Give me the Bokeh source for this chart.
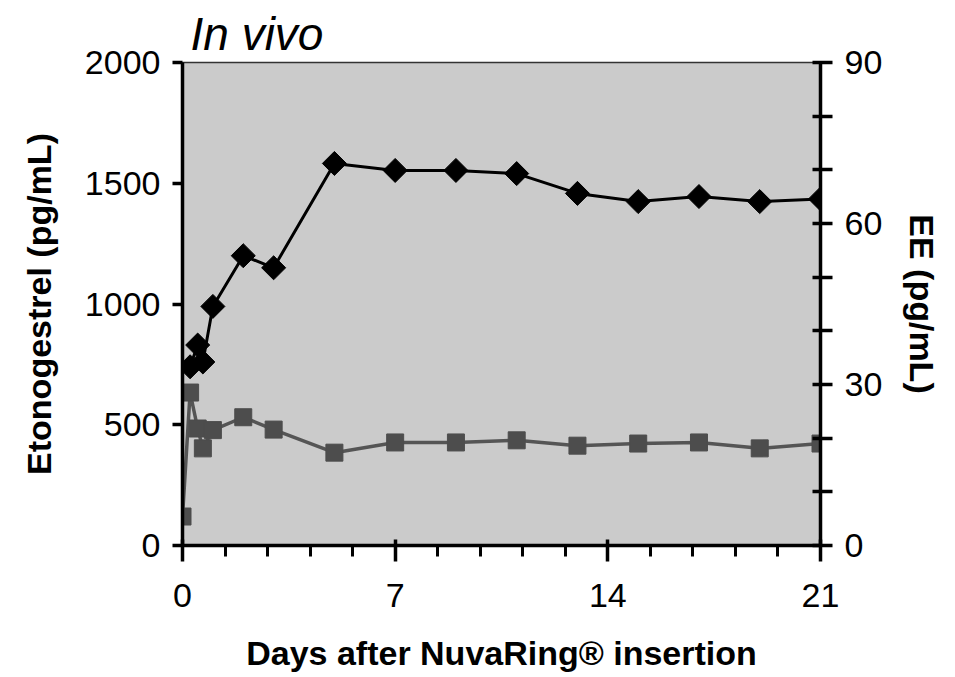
import math
from bokeh.plotting import figure
from bokeh.models import LinearAxis, Range1d, FixedTicker
from bokeh.embed import file_html
from bokeh.resources import INLINE

# Etonogestrel (left axis, pg/mL)
eng_days = [0.25, 0.5, 0.67, 1, 2, 3, 5, 7, 9, 11, 13, 15, 17, 19, 21]
eng_vals = [740, 830, 760, 990, 1200, 1150, 1582, 1553, 1553, 1540, 1458, 1424, 1445, 1424, 1435]

# Ethinylestradiol EE (right axis, pg/mL)
ee_days = [0, 0.25, 0.5, 0.67, 1, 2, 3, 5, 7, 9, 11, 13, 15, 17, 19, 21]
ee_vals = [5.4, 28.5, 21.8, 18.1, 21.5, 23.9, 21.6, 17.3, 19.2, 19.2, 19.6, 18.6, 19.0, 19.2, 18.1, 19.0]

x_major = [0, 7, 14, 21]
x_minor = [1.4 * i for i in range(16)]
left_ticks = [0, 500, 1000, 1500, 2000]
right_major = [0, 30, 60, 90]
right_minor = [10, 20, 40, 50, 70, 80]

FONT = "Liberation Sans"

p = figure(width=950, height=675, output_backend="svg", toolbar_location=None,
           x_range=Range1d(0, 21), y_range=Range1d(0, 2000),
           min_border_left=182, min_border_right=130, min_border_top=62, min_border_bottom=130)
p.background_fill_color = "#cbcbcb"
p.border_fill_color = "white"
p.outline_line_color = "#333333"
p.outline_line_width = 1.5
p.grid.visible = False

p.title.text = "In vivo"
p.title.text_font = FONT
p.title.text_font_style = "italic"
p.title.text_font_size = "46px"
p.title.text_color = "black"
p.title.align = "left"
p.title.offset = 8
p.title.standoff = 6

p.extra_y_ranges = {"ee": Range1d(0, 90)}

# left axis
ya = p.yaxis[0]
ya.ticker = FixedTicker(ticks=left_ticks)
ya.axis_line_width = 3.5
ya.major_tick_line_width = 3.5
ya.major_tick_in = 0
ya.major_tick_out = 10
ya.minor_tick_line_color = None
ya.major_label_standoff = 12
ya.major_label_text_font = FONT
ya.major_label_text_font_size = "34px"
ya.major_label_text_color = "black"
ya.axis_label = "Etonogestrel (pg/mL)"
ya.axis_label_text_font = FONT
ya.axis_label_text_font_size = "34px"
ya.axis_label_text_font_style = "bold"
ya.axis_label_text_color = "black"
ya.axis_label_standoff = 24

# bottom axis
xa = p.xaxis[0]
xa.ticker = FixedTicker(ticks=x_major, minor_ticks=x_minor)
xa.axis_line_width = 3.5
xa.major_tick_line_width = 3.5
xa.major_tick_in = 6
xa.major_tick_out = 16
xa.minor_tick_line_width = 3
xa.minor_tick_in = 0
xa.minor_tick_out = 11
xa.major_label_standoff = 22
xa.major_label_text_font = FONT
xa.major_label_text_font_size = "34px"
xa.major_label_text_color = "black"
xa.axis_label = "Days after NuvaRing® insertion"
xa.axis_label_text_font = FONT
xa.axis_label_text_font_size = "34px"
xa.axis_label_text_font_style = "bold"
xa.axis_label_text_color = "black"
xa.axis_label_standoff = 24

# right axis
ra = LinearAxis(y_range_name="ee")
ra.ticker = FixedTicker(ticks=right_major, minor_ticks=right_minor)
ra.axis_line_width = 3.5
ra.major_tick_line_width = 3.5
ra.major_tick_in = 8
ra.major_tick_out = 12
ra.minor_tick_line_width = 3.5
ra.minor_tick_in = 8
ra.minor_tick_out = 12
ra.major_label_standoff = 12
ra.major_label_text_font = FONT
ra.major_label_text_font_size = "34px"
ra.major_label_text_color = "black"
ra.axis_label = "EE (pg/mL)"
ra.axis_label_text_font = FONT
ra.axis_label_text_font_size = "34px"
ra.axis_label_text_font_style = "bold"
ra.axis_label_text_color = "black"
ra.axis_label_standoff = 18
p.add_layout(ra, "right")

# EE series
p.line(ee_days, ee_vals, y_range_name="ee", line_color="#555555", line_width=3.5)
p.scatter(ee_days, ee_vals, y_range_name="ee", marker="square", size=17,
          fill_color="#4d4d4d", line_color="#4d4d4d")

# Etonogestrel series
p.line(eng_days, eng_vals, line_color="black", line_width=3)
p.scatter(eng_days, eng_vals, marker="square", size=17, angle=math.pi / 4,
          fill_color="black", line_color="black")

open("out.html", "w").write(file_html(p, INLINE))
